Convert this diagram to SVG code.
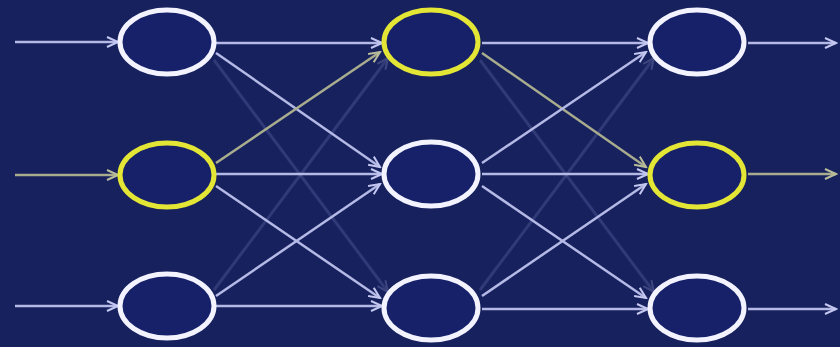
<svg xmlns="http://www.w3.org/2000/svg" width="840" height="347" viewBox="0 0 840 347">
<defs>
<marker id="ah" markerWidth="14" markerHeight="12" refX="12" refY="6" orient="auto" markerUnits="userSpaceOnUse"><path d="M1,1 L12,6 L1,11" fill="none" stroke="#c4c8f0" stroke-width="2"/></marker>
<marker id="ay" markerWidth="14" markerHeight="12" refX="12" refY="6" orient="auto" markerUnits="userSpaceOnUse"><path d="M1,1 L12,6 L1,11" fill="none" stroke="#b9bd9a" stroke-width="2"/></marker>
</defs>
<style>
.e{stroke:#b4b9e6;stroke-width:2.5;fill:none;marker-end:url(#ah)}
.f{stroke:#8a92d0;stroke-width:3;fill:none;opacity:0.22;marker-end:url(#ah)}
.y{stroke:#a9ad8e;stroke-width:2.5;fill:none;marker-end:url(#ay)}
.n{fill:#17216a;stroke:#f2f3ff;stroke-width:5}
.h{fill:#17216a;stroke:#e4e635;stroke-width:5}
</style>
<rect width="840" height="347" fill="#17215e"/>
<g id="connectors">
<line class="f" x1="214" y1="60" x2="388" y2="292"/>
<line class="f" x1="214" y1="290" x2="388" y2="58"/>
<line class="f" x1="480" y1="60" x2="654" y2="292"/>
<line class="f" x1="480" y1="290" x2="654" y2="58"/>
<line class="e" x1="15" y1="42" x2="118" y2="42"/>
<line class="y" x1="15" y1="175" x2="118" y2="175"/>
<line class="e" x1="15" y1="306" x2="118" y2="306"/>
<line class="e" x1="216" y1="43" x2="382" y2="43"/>
<line class="e" x1="216" y1="174" x2="382" y2="174"/>
<line class="e" x1="216" y1="306" x2="382" y2="306"/>
<line class="e" x1="216" y1="53" x2="380" y2="167"/>
<line class="y" x1="216" y1="163" x2="380" y2="52"/>
<line class="e" x1="216" y1="186" x2="380" y2="298"/>
<line class="e" x1="216" y1="296" x2="380" y2="184"/>
<line class="e" x1="482" y1="43" x2="648" y2="43"/>
<line class="e" x1="482" y1="174" x2="648" y2="174"/>
<line class="e" x1="482" y1="309" x2="648" y2="309"/>
<line class="y" x1="482" y1="53" x2="646" y2="167"/>
<line class="e" x1="482" y1="163" x2="646" y2="52"/>
<line class="e" x1="482" y1="186" x2="646" y2="298"/>
<line class="e" x1="482" y1="296" x2="646" y2="184"/>
<line class="e" x1="748" y1="43" x2="836" y2="43"/>
<line class="y" x1="748" y1="174" x2="836" y2="174"/>
<line class="e" x1="748" y1="309" x2="836" y2="309"/>
</g>
<g id="n11"><ellipse class="n" cx="167" cy="42" rx="47" ry="32"/></g>
<g id="n21"><ellipse class="h" cx="167" cy="175" rx="47" ry="32"/></g>
<g id="n31"><ellipse class="n" cx="167" cy="306" rx="47" ry="32"/></g>
<g id="n12"><ellipse class="h" cx="431" cy="42" rx="47" ry="32"/></g>
<g id="n22"><ellipse class="n" cx="431" cy="174" rx="47" ry="32"/></g>
<g id="n32"><ellipse class="n" cx="431" cy="308" rx="47" ry="32"/></g>
<g id="n13"><ellipse class="n" cx="697" cy="42" rx="47" ry="32"/></g>
<g id="n23"><ellipse class="h" cx="697" cy="175" rx="47" ry="32"/></g>
<g id="n33"><ellipse class="n" cx="697" cy="308" rx="47" ry="32"/></g>
</svg>
